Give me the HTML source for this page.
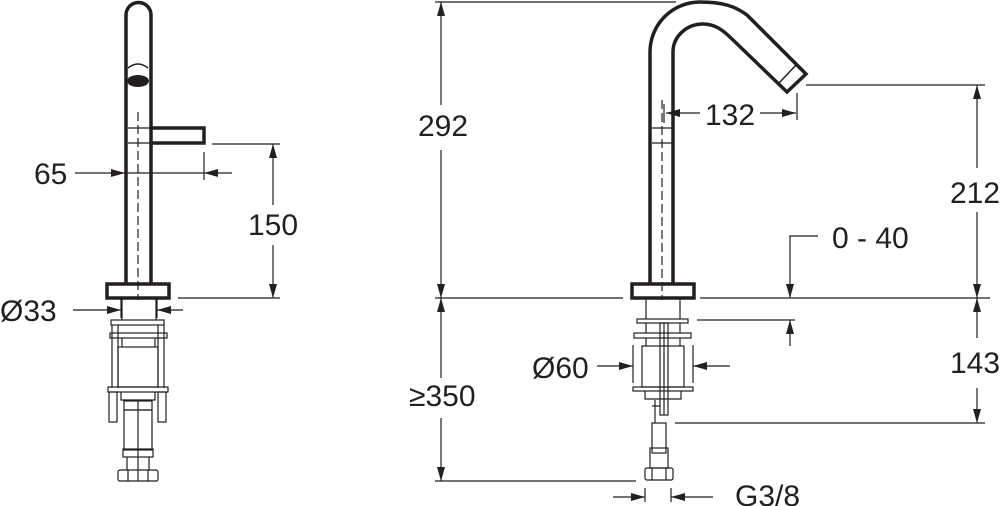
<!DOCTYPE html>
<html><head><meta charset="utf-8"><style>
html,body{margin:0;padding:0;background:#fff;}
svg{display:block;}
text{font-family:"Liberation Sans",sans-serif;font-size:30px;fill:#231f20;}
</style></head><body>
<svg width="1000" height="506" viewBox="0 0 1000 506" xmlns="http://www.w3.org/2000/svg">
<defs>
<marker id="a" markerWidth="14" markerHeight="8" refX="14" refY="4" orient="auto" markerUnits="userSpaceOnUse"><path d="M0,0 L14,4 L0,8 Z" fill="#231f20"/></marker>
</defs>
<g stroke="#231f20" fill="none">
<!-- LEFT FAUCET -->
<g stroke-width="3.5">
<path d="M126,284 V15 A12.5,12.5 0 0 1 151,15 V284"/>
<path d="M151,128 H204 V143 H151"/>
<rect x="107" y="284" width="62" height="14"/>
</g>
<ellipse cx="138" cy="81" rx="11" ry="6" fill="#231f20" stroke="none"/>
<path d="M128,68 Q138,60 148,68" stroke-width="1.5"/>
<g stroke-width="1.2">
<path d="M128,128 H150 M128,143 H150"/>
<path d="M138,112 V300" stroke-dasharray="9,4"/>
<path d="M122,298 V320 M156,298 V320"/>
<rect x="111" y="320" width="53" height="5"/>
<path d="M112,325 V388 M118,325 V388 M158,325 V388 M164,325 V388"/>
<rect x="110" y="333" width="57" height="5"/>
<path d="M122,338 V347 M155,338 V347"/>
<rect x="118" y="347" width="40" height="40"/>
<rect x="108" y="387" width="60" height="5"/>
<rect x="109" y="392" width="8" height="30"/>
<rect x="158" y="392" width="8" height="30"/>
<path d="M121,392 V400 H155 V392"/>
<rect x="124" y="401" width="28" height="9"/>
<rect x="124" y="410" width="28" height="40"/>
<path d="M138,400 V481"/>
<rect x="123" y="449" width="30" height="8"/>
<path d="M127,457 V470 M149,457 V470"/>
<rect x="118" y="470" width="40" height="11" rx="2"/>
<path d="M128,470 V481 M148,470 V481"/>
</g>
<g stroke-width="1.2">
<path d="M75,173 H125" marker-end="url(#a)"/>
<path d="M232,173 H204" marker-end="url(#a)"/>
<path d="M125,173 H204"/>
<path d="M204,152 V180"/>
<path d="M212,144 H280 M178,298 H280"/>
<path d="M273,205 V144" marker-end="url(#a)"/>
<path d="M273,245 V298" marker-end="url(#a)"/>
<path d="M73,310 H121" marker-end="url(#a)"/>
<path d="M183,310 H157" marker-end="url(#a)"/>
<path d="M121,299 V318 M157,299 V318"/>
</g>

<!-- RIGHT FAUCET -->
<g stroke-width="3.5">
<path d="M650,284 V52 A50,50 0 0 1 700,2 C722,2 735,6 747,15 L806,74 L787,92 L732,39 C722,29 714,24 703,24 A30,28 0 0 0 673,52 V284"/>
<rect x="632" y="284" width="62" height="14"/>
</g>
<g stroke-width="1.5"><path d="M779,83 L797,64"/></g>
<g stroke-width="1.2">
<path d="M652,128 H672 M652,143 H672"/>
<path d="M662,100 V300" stroke-dasharray="9,4"/>
<path d="M646,298 V319 M680,298 V319"/>
<rect x="637" y="319" width="51" height="4"/>
<rect x="634" y="333" width="57" height="5"/>
<path d="M646,323 V333 M680,323 V333 M646,338 V346 M680,338 V346"/>
<rect x="642" y="346" width="42" height="41"/>
<rect x="633" y="387" width="60" height="4"/>
<path d="M645,391 V399 H681 V391"/>
<rect x="660" y="323" width="8" height="92"/>
<path d="M664,323 V415"/>
<path d="M655,400 V423 M652,406 H660"/>
<rect x="652" y="423" width="14" height="30"/>
<rect x="650" y="448" width="18" height="20"/>
<rect x="645" y="468" width="28" height="12" rx="2"/>
<path d="M652,468 V480 M666,468 V480"/>
</g>
<g stroke-width="1.2">
<path d="M435,2 H676"/>
<path d="M441,105 V2" marker-end="url(#a)"/>
<path d="M441,150 V298" marker-end="url(#a)"/>
<path d="M435,298 H623 M700,298 H990"/>
<path d="M441,378 V298" marker-end="url(#a)"/>
<path d="M441,418 V481" marker-end="url(#a)"/>
<path d="M435,481 H636"/>
<path d="M664,104 V123 M797,93 V120"/>
<path d="M700,113 H666" marker-end="url(#a)"/>
<path d="M760,113 H796" marker-end="url(#a)"/>
<path d="M806,85 H985"/>
<path d="M977,168 V85" marker-end="url(#a)"/>
<path d="M977,212 V298" marker-end="url(#a)"/>
<path d="M818,236 H790 V298" marker-end="url(#a)"/>
<path d="M697,320 H795"/>
<path d="M790,346 V320" marker-end="url(#a)"/>
<path d="M977,338 V298" marker-end="url(#a)"/>
<path d="M977,388 V423" marker-end="url(#a)"/>
<path d="M675,423 H985"/>
<path d="M597,366 H633" marker-end="url(#a)"/>
<path d="M730,366 H693" marker-end="url(#a)"/>
<path d="M633,345 V383 M693,345 V383"/>
<path d="M613,497 H645" marker-end="url(#a)"/>
<path d="M713,497 H671" marker-end="url(#a)"/>
<path d="M645,488 V502 M671,488 V502"/>
</g>
</g>
<text x="34" y="184">65</text>
<text x="248" y="235">150</text>
<text x="0" y="321">Ø33</text>
<text x="418" y="136">292</text>
<text x="705" y="125">132</text>
<text x="950" y="203">212</text>
<text x="832" y="248">0 - 40</text>
<text x="950" y="373">143</text>
<text x="532" y="378">Ø60</text>
<text x="409" y="406">≥350</text>
<text x="735" y="506">G3/8</text>
</svg>
</body></html>
